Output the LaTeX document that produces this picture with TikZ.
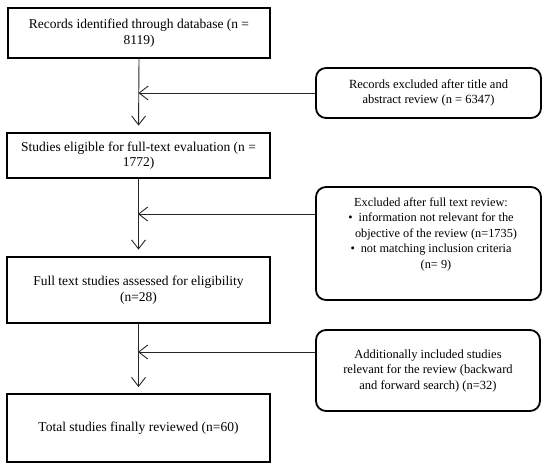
\documentclass[tikz,border=0pt]{standalone}
\usepackage{fontspec}
\setmainfont{Liberation Serif}
\usetikzlibrary{arrows.meta}
\begin{document}
\begin{tikzpicture}[x=1pt,y=-1pt,
  mainbox/.style={draw=black,line width=1.8pt,rectangle,inner sep=0pt,align=center,
    font=\fontsize{13.5}{15.5}\selectfont},
  sidebox/.style={draw=black,line width=1.8pt,rectangle,rounded corners=10pt,inner sep=0pt,align=center,
    font=\fontsize{12.5}{15.5}\selectfont},
  txt/.style={inner sep=0pt,align=center,font=\fontsize{12.3}{15.5}\selectfont},
  arr/.style={draw=black!85,line width=0.9pt,-{Straight Barb[length=9pt,width=14pt,line width=0.9pt]}},
  conn/.style={draw=black!85,line width=0.9pt}]
\useasboundingbox (0,0) rectangle (550,469);
% main column
\node[mainbox,minimum width=262pt,minimum height=50pt] (B1) at (139,33)
  {Records identified through database (n =\\8119)};
\node[mainbox,minimum width=263pt,minimum height=45pt] (B2) at (138.5,155.5)
  {Studies eligible for full-text evaluation (n =\\1772)};
\node[mainbox,minimum width=263pt,minimum height=66pt] (B3) at (138.5,290)
  {Full text studies assessed for eligibility\\(n=28)};
\node[mainbox,minimum width=263pt,minimum height=68pt] (B4) at (138.5,428)
  {Total studies finally reviewed (n=60)};
% side column
\node[sidebox,minimum width=225pt,minimum height=50pt] (R1) at (428.5,93)
  {Records excluded after title and\\abstract review (n = 6347)};
\node[sidebox,minimum width=225pt,minimum height=113pt] (R2) at (428.5,243.5) {};
\node[txt] (R2t) at (431,234)
  {Excluded after full text review:\\
   \textbullet\hspace{6pt}information not relevant for the\\
   \hspace*{10pt}objective of the review (n=1735)\\
   \textbullet\hspace{6pt}not matching inclusion criteria\\
   \hspace*{10pt}(n=~9)};
\node[sidebox,minimum width=224pt,minimum height=81pt] (R3) at (428,370.5)
  {Additionally included studies\\relevant for the review (backward\\and forward search) (n=32)};
% junction points
\coordinate (s1) at (R1.west);
\coordinate (s2) at ([yshift=29.5pt]R2.west);
\coordinate (s3) at ([yshift=18.5pt]R3.west);
\coordinate (j1) at (s1 -| B1.south);
\coordinate (j2) at (s2 -| B2.south);
\coordinate (j3) at (s3 -| B3.south);
% connectors
\draw[arr,shorten >=6.5pt] (B1.south) -- (B2.north);
\draw[arr,shorten >=6.5pt] (B2.south) -- (B3.north);
\draw[arr,shorten >=6pt] (B3.south) -- (B4.north);
\draw[arr,shorten >=-0.5pt] (s1) -- (j1);
\draw[arr,shorten >=-0.5pt] (s2) -- (j2);
\draw[arr,shorten >=-0.5pt] (s3) -- (j3);
\end{tikzpicture}
\end{document}
